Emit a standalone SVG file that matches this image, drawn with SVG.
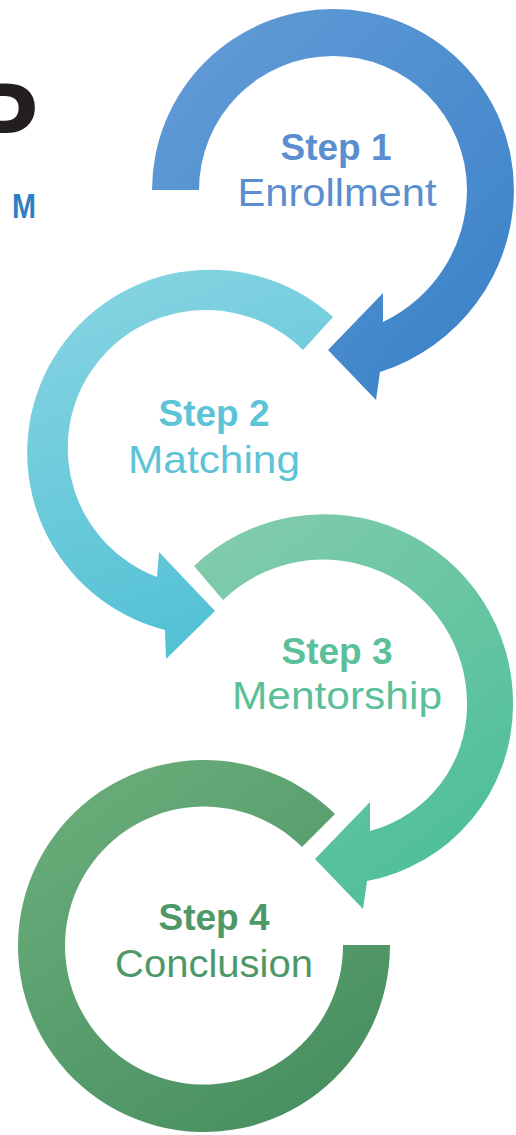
<svg xmlns="http://www.w3.org/2000/svg" width="516" height="1135" viewBox="0 0 516 1135">
  <style>
    .t { font-family: "Liberation Sans", Arial, sans-serif; text-anchor: middle; }
    .b { font-weight: bold; font-size: 37px; }
    .r { font-weight: normal; font-size: 39px; }
  </style>
  <defs>
    <linearGradient id="g1" x1="0" y1="0" x2="1" y2="1">
      <stop offset="0" stop-color="#659dd8"/>
      <stop offset="1" stop-color="#3880c7"/>
    </linearGradient>
    <linearGradient id="g2" x1="0.4" y1="0" x2="0.7" y2="1">
      <stop offset="0" stop-color="#84d3e1"/>
      <stop offset="1" stop-color="#4ec0d3"/>
    </linearGradient>
    <linearGradient id="g3" x1="0.2" y1="0" x2="0.8" y2="1">
      <stop offset="0" stop-color="#80cbab"/>
      <stop offset="1" stop-color="#4abe97"/>
    </linearGradient>
    <linearGradient id="g4" x1="0.2" y1="0" x2="0.9" y2="1">
      <stop offset="0" stop-color="#69ad7a"/>
      <stop offset="1" stop-color="#458c5e"/>
    </linearGradient>
  </defs>
  <rect width="516" height="1135" fill="#ffffff"/>

  <g id="title">
    <text x="-36" y="160" font-family="Liberation Sans, Arial, sans-serif" font-weight="bold" font-size="112" fill="#231f20">P</text>
    <text x="12" y="218" font-family="Liberation Sans, Arial, sans-serif" font-weight="bold" font-size="35" fill="#2e7fc2" textLength="24" lengthAdjust="spacingAndGlyphs">M</text>
  </g>

  <g id="step1">
    <path fill="url(#g1)" d="M152,190 A181,181 0 0 1 514,190 A192,192 0 0 1 380,372 L376,400 L328,350 L383,293 L383,322 A147,147 0 0 0 467,190 A134,134 0 0 0 199,190 Z"/>
    <text class="t b" x="336" y="160" fill="#5a8ecf">Step 1</text>
    <text class="t r" x="337" y="206" fill="#5a8ecf" textLength="199" lengthAdjust="spacingAndGlyphs">Enrollment</text>
  </g>

  <g id="step2">
    <path fill="url(#g2)" d="M333,317 A183,183 0 1 0 165,630 L166,659 L215,611 L159,552 L157,577 A138,138 0 1 1 303,350 Z"/>
    <text class="t b" x="214" y="426" fill="#5cc4d6">Step 2</text>
    <text class="t r" x="214" y="473" fill="#5cc4d6" textLength="172" lengthAdjust="spacingAndGlyphs">Matching</text>
  </g>

  <g id="step3">
    <path fill="url(#g3)" d="M194,566 A189,189 0 0 1 513,705 A179,179 0 0 1 367,881 L363,909 L315,859 L370,802 L370,831 A130,130 0 0 0 467,705 A144,144 0 0 0 223,600 Z"/>
    <text class="t b" x="337" y="664" fill="#5bbf99">Step 3</text>
    <text class="t r" x="337" y="709" fill="#5bbf99" textLength="210" lengthAdjust="spacingAndGlyphs">Mentorship</text>
  </g>

  <g id="step4">
    <path fill="url(#g4)" d="M335,814 A186,186 0 1 0 390,945 L343,945 A139,139 0 1 1 302,847 Z"/>
    <text class="t b" x="214" y="930" fill="#4e9766">Step 4</text>
    <text class="t r" x="214" y="977" fill="#4e9766" textLength="198" lengthAdjust="spacingAndGlyphs">Conclusion</text>
  </g>

  <g id="connectors"></g>
</svg>
